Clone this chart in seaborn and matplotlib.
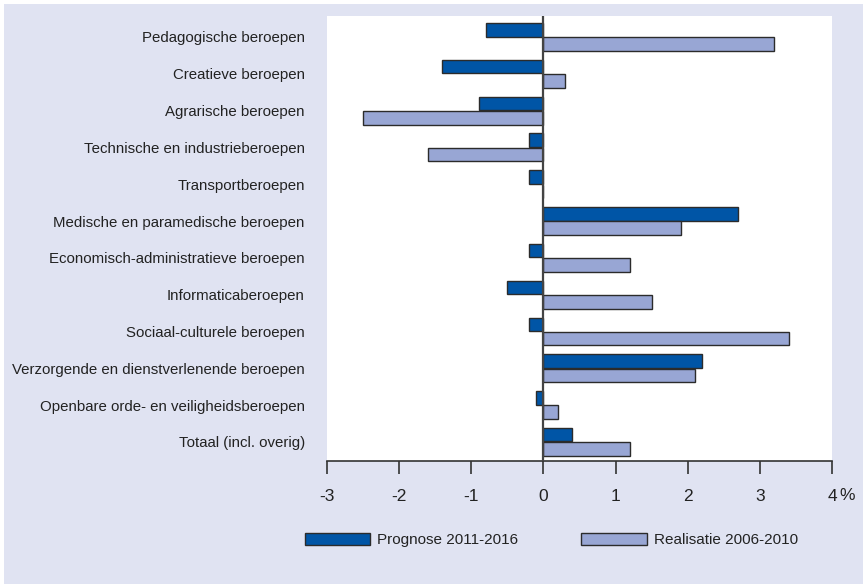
import matplotlib
matplotlib.use("Agg")
import matplotlib.pyplot as plt
import matplotlib.patches as mpatches
import pandas as pd
import seaborn as sns

# categories, top to bottom
beroepen = [
    "Pedagogische beroepen",
    "Creatieve beroepen",
    "Agrarische beroepen",
    "Technische en industrieberoepen",
    "Transportberoepen",
    "Medische en paramedische beroepen",
    "Economisch-administratieve beroepen",
    "Informaticaberoepen",
    "Sociaal-culturele beroepen",
    "Verzorgende en dienstverlenende beroepen",
    "Openbare orde- en veiligheidsberoepen",
    "Totaal (incl. overig)",
]
prognose = [-0.8, -1.4, -0.9, -0.2, -0.2, 2.7, -0.2, -0.5, -0.2, 2.2, -0.1, 0.4]
realisatie = [3.2, 0.3, -2.5, -1.6, 0.0, 1.9, 1.2, 1.5, 3.4, 2.1, 0.2, 1.2]
series = ["Prognose 2011-2016", "Realisatie 2006-2010"]
xticks = [-3, -2, -1, 0, 1, 2, 3, 4]

colors = {series[0]: "#0055a6", series[1]: "#98a6d4"}
bg = "#e0e3f2"

df = pd.DataFrame({
    "beroep": beroepen * 2,
    "waarde": prognose + realisatie,
    "reeks": [series[0]] * len(beroepen) + [series[1]] * len(beroepen),
})

sns.set_theme(style="white")
plt.rcParams["font.family"] = ["Liberation Sans", "DejaVu Sans"]
plt.rcParams["text.color"] = "#222222"

fig = plt.figure(figsize=(8.67, 5.88), dpi=100, facecolor="white")
# lavender background with a thin white frame
fig.patches.append(mpatches.Rectangle((4 / 867, 4 / 588), 859 / 867, 580 / 588,
                                      transform=fig.transFigure, facecolor=bg,
                                      edgecolor="none", zorder=-10))
ax = fig.add_axes([327 / 867, 1 - 461 / 588, 505 / 867, 445 / 588])
ax.set_facecolor("white")

sns.barplot(data=df, y="beroep", x="waarde", hue="reeks", order=beroepen,
            hue_order=series, palette=colors, saturation=1, orient="h",
            width=0.78, gap=0.06, edgecolor="#2b2b2b", linewidth=1.0,
            legend=False, ax=ax)

ax.axvline(0, color="#444444", linewidth=1.6, zorder=5)
ax.set_xlim(-3, 4)
ax.set_ylim(11.52, -0.57)
ax.set_xticks(xticks)
ax.set_xticklabels([str(t) for t in xticks])
ax.set_xlabel("")
ax.set_ylabel("")
for s in ["top", "right", "left"]:
    ax.spines[s].set_visible(False)
ax.spines["bottom"].set_color("#333333")
ax.spines["bottom"].set_linewidth(1.2)
ax.tick_params(axis="x", direction="out", length=9, width=1.2, color="#333333",
               pad=11, labelsize=12.5, labelcolor="#222222", bottom=True)
ax.tick_params(axis="y", length=0, pad=16, labelsize=10.8, labelcolor="#222222")
fig.text(847 / 867, 1 - 496 / 588, "%", fontsize=12.5, ha="center", va="center",
         color="#222222")

handles = [mpatches.Patch(facecolor=colors[s], edgecolor="#2b2b2b", linewidth=1.0, label=s)
           for s in series]
fig.legend(handles=handles, loc="center left", bbox_to_anchor=(297 / 867, 1 - 540 / 588),
           ncol=2, frameon=False, borderpad=0, handlelength=4.3, handleheight=0.85,
           columnspacing=4.1, handletextpad=0.45, fontsize=11)

fig.savefig("out.png", dpi=100, facecolor=fig.get_facecolor())
